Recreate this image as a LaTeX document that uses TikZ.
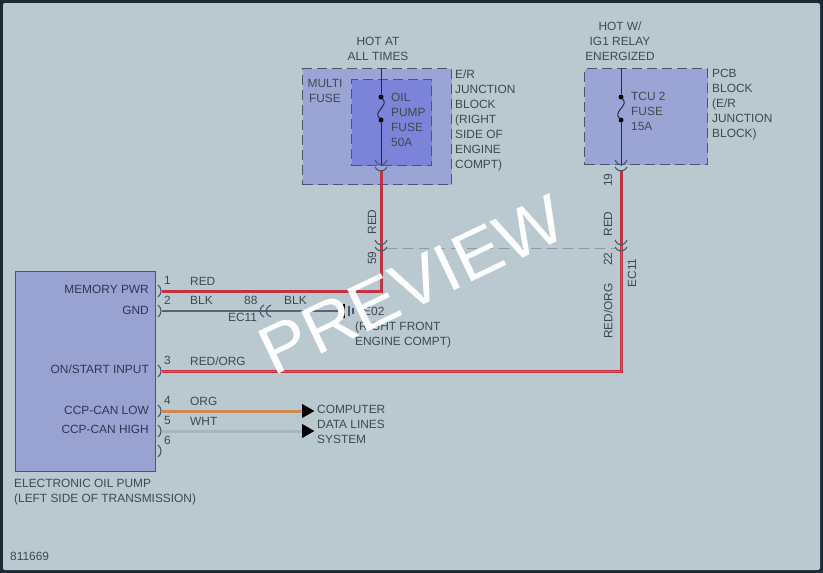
\documentclass[tikz,border=0pt]{standalone}
\usepackage{fontspec}
\setmainfont{Liberation Sans}
\usetikzlibrary{positioning,shapes.geometric}

\definecolor{framecol}{HTML}{1B2B36}
\definecolor{bgcol}{HTML}{BAC8D0}
\definecolor{boxcol}{HTML}{9AA5D6}
\definecolor{fusecol}{HTML}{7B84D8}
\definecolor{edgecol}{HTML}{4A566E}
\definecolor{inkcol}{HTML}{3E4950}
\definecolor{navycol}{HTML}{1F2A4C}
\definecolor{redcol}{HTML}{C5323F}
\definecolor{orgcol}{HTML}{CC8A50}
\definecolor{blkcol}{HTML}{59656D}
\definecolor{whtcol}{HTML}{A9B5BC}

\tikzset{
  lbl/.style={inner sep=0pt, text=inkcol, font=\fontsize{11.9}{15}\selectfont, align=left},
  txt/.style={lbl, anchor=north west},
  mid/.style={lbl, align=center, anchor=north},
  pinname/.style={lbl, anchor=east, text=navycol!85!gray, text height=9pt, text depth=0pt},
  wirename/.style={lbl, anchor=west, text height=9pt, text depth=0pt},
  upname/.style={lbl, rotate=90, anchor=center},
  dashbox/.style={draw=edgecol, line width=1.4pt, dash pattern=on 10pt off 5pt, anchor=north west, inner sep=0pt},
  dot/.style={circle, fill=black, inner sep=0pt, minimum size=5pt},
  feed/.style={draw=navycol, line width=1pt},
  redwire/.style={draw=redcol, line width=3pt},
  redorg/.style={draw=redcol, line width=3pt, postaction={draw=orgcol!60!redcol, line width=1pt}},
  blkwire/.style={draw=blkcol, line width=2.6pt},
  orgwire/.style={draw=orgcol, line width=3pt},
  whtwire/.style={draw=whtcol, line width=3pt},
  tipmark/.style={isosceles triangle, isosceles triangle apex angle=60, fill=black, inner sep=0pt, minimum height=12pt, minimum width=14pt, anchor=west},
  pinmark/.pic={\draw[edgecol, line width=1.1pt] (-4,-6) .. controls (0,-3) and (0,3) .. (-4,6);},
  cuppair/.pic={
    \draw[edgecol, line width=1.1pt] (-6,-6) .. controls (-4,-2) and (-2,-1.5) .. (0,-1) .. controls (2,-1.5) and (4,-2) .. (6,-6);
    \draw[edgecol, line width=1.1pt] (-6,1) .. controls (-4,4) and (-2,5) .. (0,5) .. controls (2,5) and (4,4) .. (6,1);
  },
}

\begin{document}
\begin{tikzpicture}[x=1pt, y=-1pt]

\useasboundingbox (0,0) rectangle (823,573);

% Frame
\fill[framecol] (0,0) rectangle (823,573);
\fill[bgcol, rounded corners=2pt] (3,3) rectangle (820,570);

% Blocks
\node[dashbox, fill=boxcol, minimum width=149pt, minimum height=116pt] (erblock) at (302,68) {};
\node[dashbox, fill=fusecol, minimum width=80pt, minimum height=86pt] (oilfuse) at (351,79) {};
\node[dashbox, fill=boxcol, minimum width=123pt, minimum height=96pt] (pcbblock) at (584,68) {};
\node[draw=edgecol, line width=1.2pt, fill=boxcol!95!gray, anchor=north west, inner sep=0pt, minimum width=140pt, minimum height=200pt] (pump) at (15,271) {};

% Connection points
\coordinate (hotA) at (381,68);
\coordinate (hotB) at (621,68);
\coordinate (cA) at (381,166);
\coordinate (cB) at (621,166);
\coordinate (c59) at (381,246);
\coordinate (c22) at (621,246);
\coordinate (p1) at (162,291);
\coordinate (p2) at (162,311);
\coordinate (p3) at (162,371);
\coordinate (p4) at (162,411);
\coordinate (p5) at (162,431);
\coordinate (p6) at (162,451);
\coordinate (c88) at (265,311);
\coordinate (gnd) at (344,311);

% Fuses
\node[dot] (dA1) at (381,97) {};
\node[dot] (dA2) at (381,120) {};
\node[dot] (dB1) at (621,97) {};
\node[dot] (dB2) at (621,120) {};
\draw[feed] (hotA) -- (dA1);
\draw[feed] (dA1) .. controls +(8,9) and +(-8,-9) .. (dA2);
\draw[feed] (dA2) -- (cA);
\draw[feed] (hotB) -- (dB1);
\draw[feed] (dB1) .. controls +(8,9) and +(-8,-9) .. (dB2);
\draw[feed] (dB2) -- (cB);

% Wires
\draw[redwire] (cA) ++(0,4) -- (c59);
\draw[redwire] (cB) ++(0,4) -- (c22);
\draw[redwire] (p1) -- (p1 -| c59) -- (c59);
\draw[redorg] (p3) -- (p3 -| c22) -- (c22);
\draw[blkwire] (p2) -- (c88);
\draw[blkwire] (c88) -- (gnd);
\draw[draw=whtcol!85!black, line width=1pt, dash pattern=on 10pt off 6pt] ([xshift=6pt,yshift=-2pt]c59) -- ([xshift=-6pt,yshift=-2pt]c22);

% Data lines
\node[tipmark] (tipL) at (302,411) {};
\node[tipmark] (tipH) at (302,431) {};
\draw[orgwire] (p4) -- (tipL);
\draw[whtwire] (p5) -- (tipH);

% Connector marks
\pic at (p1) {pinmark};
\pic at (p2) {pinmark};
\pic at (p3) {pinmark};
\pic at (p4) {pinmark};
\pic at (p5) {pinmark};
\pic at (p6) {pinmark};
\pic at (cA) {cuppair};
\pic at (cB) {cuppair};
\pic at (c59) {cuppair};
\pic at (c22) {cuppair};
\pic[rotate=-90] at (c88) {cuppair};

% Ground
\draw[black, line width=2.6pt] ([yshift=-7pt]gnd) -- ([yshift=7pt]gnd);
\draw[edgecol, line width=1.1pt] ([xshift=5pt,yshift=-5pt]gnd) -- ([xshift=5pt,yshift=5pt]gnd);
\draw[edgecol, line width=1.1pt] ([xshift=9pt,yshift=-3pt]gnd) -- ([xshift=9pt,yshift=3pt]gnd);

% Pump labels
\node[pinname] (nMem) at (149,289) {MEMORY PWR};
\node[pinname] (nGnd) at (149,310) {GND};
\node[pinname] (nOn) at (149,369) {ON/START INPUT};
\node[pinname] (nLow) at (149,410) {CCP-CAN LOW};
\node[pinname] (nHigh) at (149,429) {CCP-CAN HIGH};
\node[txt] (pumpname) at (14,479) {ELECTRONIC OIL PUMP\\(LEFT SIDE OF TRANSMISSION)};

% Wire labels
\node[wirename] (w1) at (164,280) {1};
\node[wirename] (w2) at (164,300) {2};
\node[wirename] (w3) at (164,360) {3};
\node[wirename] (w4) at (164,400) {4};
\node[wirename] (w5) at (164,420) {5};
\node[wirename] (w6) at (164,440) {6};
\node[wirename] (tRed) at (190,281) {RED};
\node[wirename] (tBlk) at (190,300) {BLK};
\node[wirename] (tRO) at (190,361) {RED/ORG};
\node[wirename] (tOrg) at (190,401) {ORG};
\node[wirename] (tWht) at (190,421) {WHT};
\node[wirename] (t88) at (244,300) {88};
\node[wirename] (tEC) at (228,317) {EC11};
\node[wirename] (tBlk2) at (284,300) {BLK};
\node[wirename] (tE02) at (363,311) {E02};
\node[txt] (tRight) at (355,322) {(RIGHT FRONT\\ENGINE COMPT)};
\node[txt] (tData) at (317,405) {COMPUTER\\DATA LINES\\SYSTEM};

% Upright labels
\node[upname] (uRedA) at (372,222) {RED};
\node[upname] (u59) at (372,258) {59};
\node[upname] (u19) at (608,180) {19};
\node[upname] (uRedB) at (608,224) {RED};
\node[upname] (u22) at (608,259) {22};
\node[upname] (uRO) at (608,311) {RED/ORG};
\node[upname] (uEC) at (632,273) {EC11};

% Block labels
\node[mid] (hotAt) at (378,37) {HOT AT\\ALL TIMES};
\node[mid] (hotW) at (620,22) {HOT W/\\IG1 RELAY\\ENERGIZED};
\node[mid] (multi) at (325,79) {MULTI\\FUSE};
\node[txt] (oilname) at (391,93) {OIL\\PUMP\\FUSE\\50A};
\node[txt] (tcuname) at (631,92) {TCU 2\\FUSE\\15A};
\node[txt] (ername) at (455,70) {E/R\\JUNCTION\\BLOCK\\(RIGHT\\SIDE OF\\ENGINE\\COMPT)};
\node[txt] (pcbname) at (712,69) {PCB\\BLOCK\\(E/R\\JUNCTION\\BLOCK)};
\node[txt] (number) at (10,552) {811669};

% Watermark
\node[inner sep=0pt, anchor=base west, rotate=25.5, xscale=1.05, text=white, font=\fontsize{68}{68}\selectfont] (mark) at (273,377) {PREVIEW};

\end{tikzpicture}
\end{document}
